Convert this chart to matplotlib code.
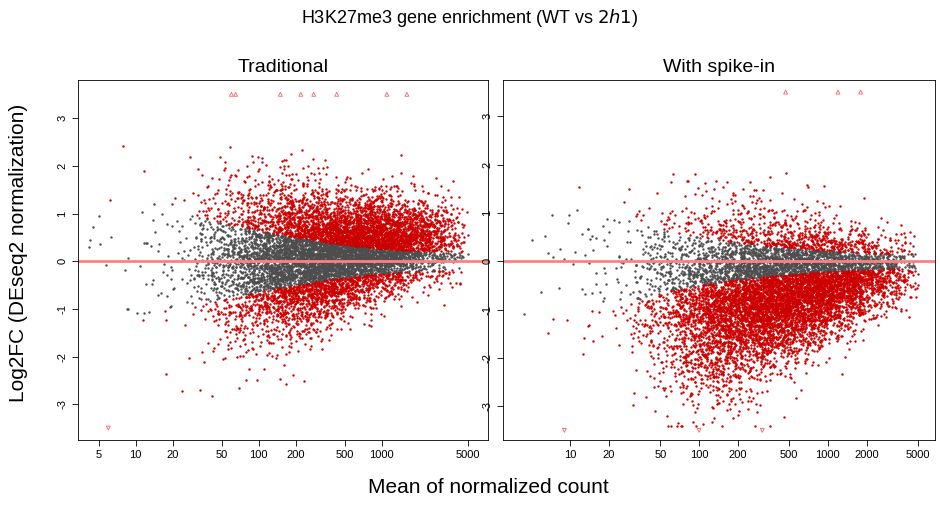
import numpy as np
import matplotlib.pyplot as plt
from matplotlib.ticker import FixedLocator, NullLocator

plt.rcParams['font.family'] = ['Liberation Sans', 'DejaVu Sans']

# values (per log10 mean-count bin)
bin_log10 = [0.6, 1.0, 1.4, 1.8, 2.2, 2.6, 3.0, 3.4, 3.7]
genes_per_bin = [5, 15, 70, 650, 2300, 3000, 2300, 800, 70]
trad_center = [0.0, 0.0, 0.0, -0.05, 0.0, 0.12, 0.3, 0.42, 0.4]
trad_spread = [0.9, 0.9, 0.85, 0.85, 0.75, 0.6, 0.5, 0.42, 0.4]
trad_thresh = [1.1, 1.1, 1.0, 0.75, 0.55, 0.38, 0.26, 0.2, 0.18]
spike_center = [-0.3, -0.3, -0.5, -0.9, -0.9, -0.7, -0.45, -0.28, -0.2]
spike_spread = [0.8, 0.85, 0.95, 0.95, 0.85, 0.7, 0.55, 0.4, 0.35]
spike_thresh = [1.1, 1.1, 0.9, 0.6, 0.42, 0.3, 0.22, 0.16, 0.15]

# clipped genes drawn as triangles at the plot edge
trad_up_x = [60, 65, 150, 220, 280, 430, 1100, 1600]
trad_down_x = [6]
spike_up_x = [470, 1200, 1800]
spike_down_x = [9, 100, 310]

grey = '#4d4d4d'
red = '#cc0000'
rng = np.random.default_rng(3)  # used only to spread the bin summaries into a cloud


def cloud(center, spread):
    grid = np.linspace(bin_log10[0], bin_log10[-1], 400)
    w = np.interp(grid, bin_log10, genes_per_bin)
    lx = rng.choice(grid, size=int(sum(genes_per_bin)), p=w / w.sum())
    lx = lx + rng.uniform(-0.005, 0.005, lx.size)
    y = rng.normal(np.interp(lx, bin_log10, center), np.interp(lx, bin_log10, spread))
    return lx, y


def panel(ax, center, spread, thresh, up_x, down_x, xlim, xticks, ylim, title):
    lx, y = cloud(center, spread)
    th = np.interp(lx, bin_log10, thresh)
    sig = np.abs(y) > th
    y = np.clip(y, ylim[0] + 0.3, ylim[1] - 0.3)
    x = 10 ** lx
    ax.scatter(x[~sig], y[~sig], s=3, c=grey, lw=0)
    ax.scatter(x[sig], y[sig], s=3, c=red, lw=0)
    ax.scatter(up_x, [3.5] * len(up_x), marker='^', s=8, facecolors='none', edgecolors='#ff6060', lw=0.6)
    ax.scatter(down_x, [-3.5] * len(down_x), marker='v', s=8, facecolors='none', edgecolors='#ff6060', lw=0.6)
    ax.axhline(0, color='#ff8080', lw=2)
    ax.set_xscale('log')
    ax.set_xlim(*xlim)
    ax.set_ylim(*ylim)
    ax.xaxis.set_major_locator(FixedLocator(xticks))
    ax.xaxis.set_minor_locator(NullLocator())
    ax.set_xticklabels([str(t) for t in xticks], fontsize=8)
    ax.set_yticks([-3, -2, -1, 0, 1, 2, 3])
    ax.set_yticklabels(['-3', '-2', '-1', '0', '1', '2', '3'], fontsize=8, rotation=90, va='center')
    ax.tick_params(length=4, width=0.6)
    for sp in ax.spines.values():
        sp.set_linewidth(0.6)
    ax.set_title(title, fontsize=14, pad=6)


fig = plt.figure(figsize=(9.4, 5.05), dpi=100)
ax1 = fig.add_axes([78 / 940, 1 - 440 / 505, 410 / 940, 360 / 505])
ax2 = fig.add_axes([503 / 940, 1 - 440 / 505, 432 / 940, 360 / 505])
panel(ax1, trad_center, trad_spread, trad_thresh, trad_up_x, trad_down_x,
      (3.4, 7300), [5, 10, 20, 50, 100, 200, 500, 1000, 5000], (-3.75, 3.8), 'Traditional')
panel(ax2, spike_center, spike_spread, spike_thresh, spike_up_x, spike_down_x,
      (3.0, 6800), [10, 20, 50, 100, 200, 500, 1000, 2000, 5000], (-3.7, 3.75), 'With spike-in')

fig.text(0.5, 0.965, 'H3K27me3 gene enrichment (WT vs $\\it{2h1}$)', ha='center', va='center', fontsize=13)
fig.text(0.52, 0.035, 'Mean of normalized count', ha='center', va='center', fontsize=15)
fig.text(0.02, 0.5, 'Log2FC (DEseq2 normalization)', ha='center', va='center', rotation=90, fontsize=15)
fig.savefig('out.png', dpi=100)
